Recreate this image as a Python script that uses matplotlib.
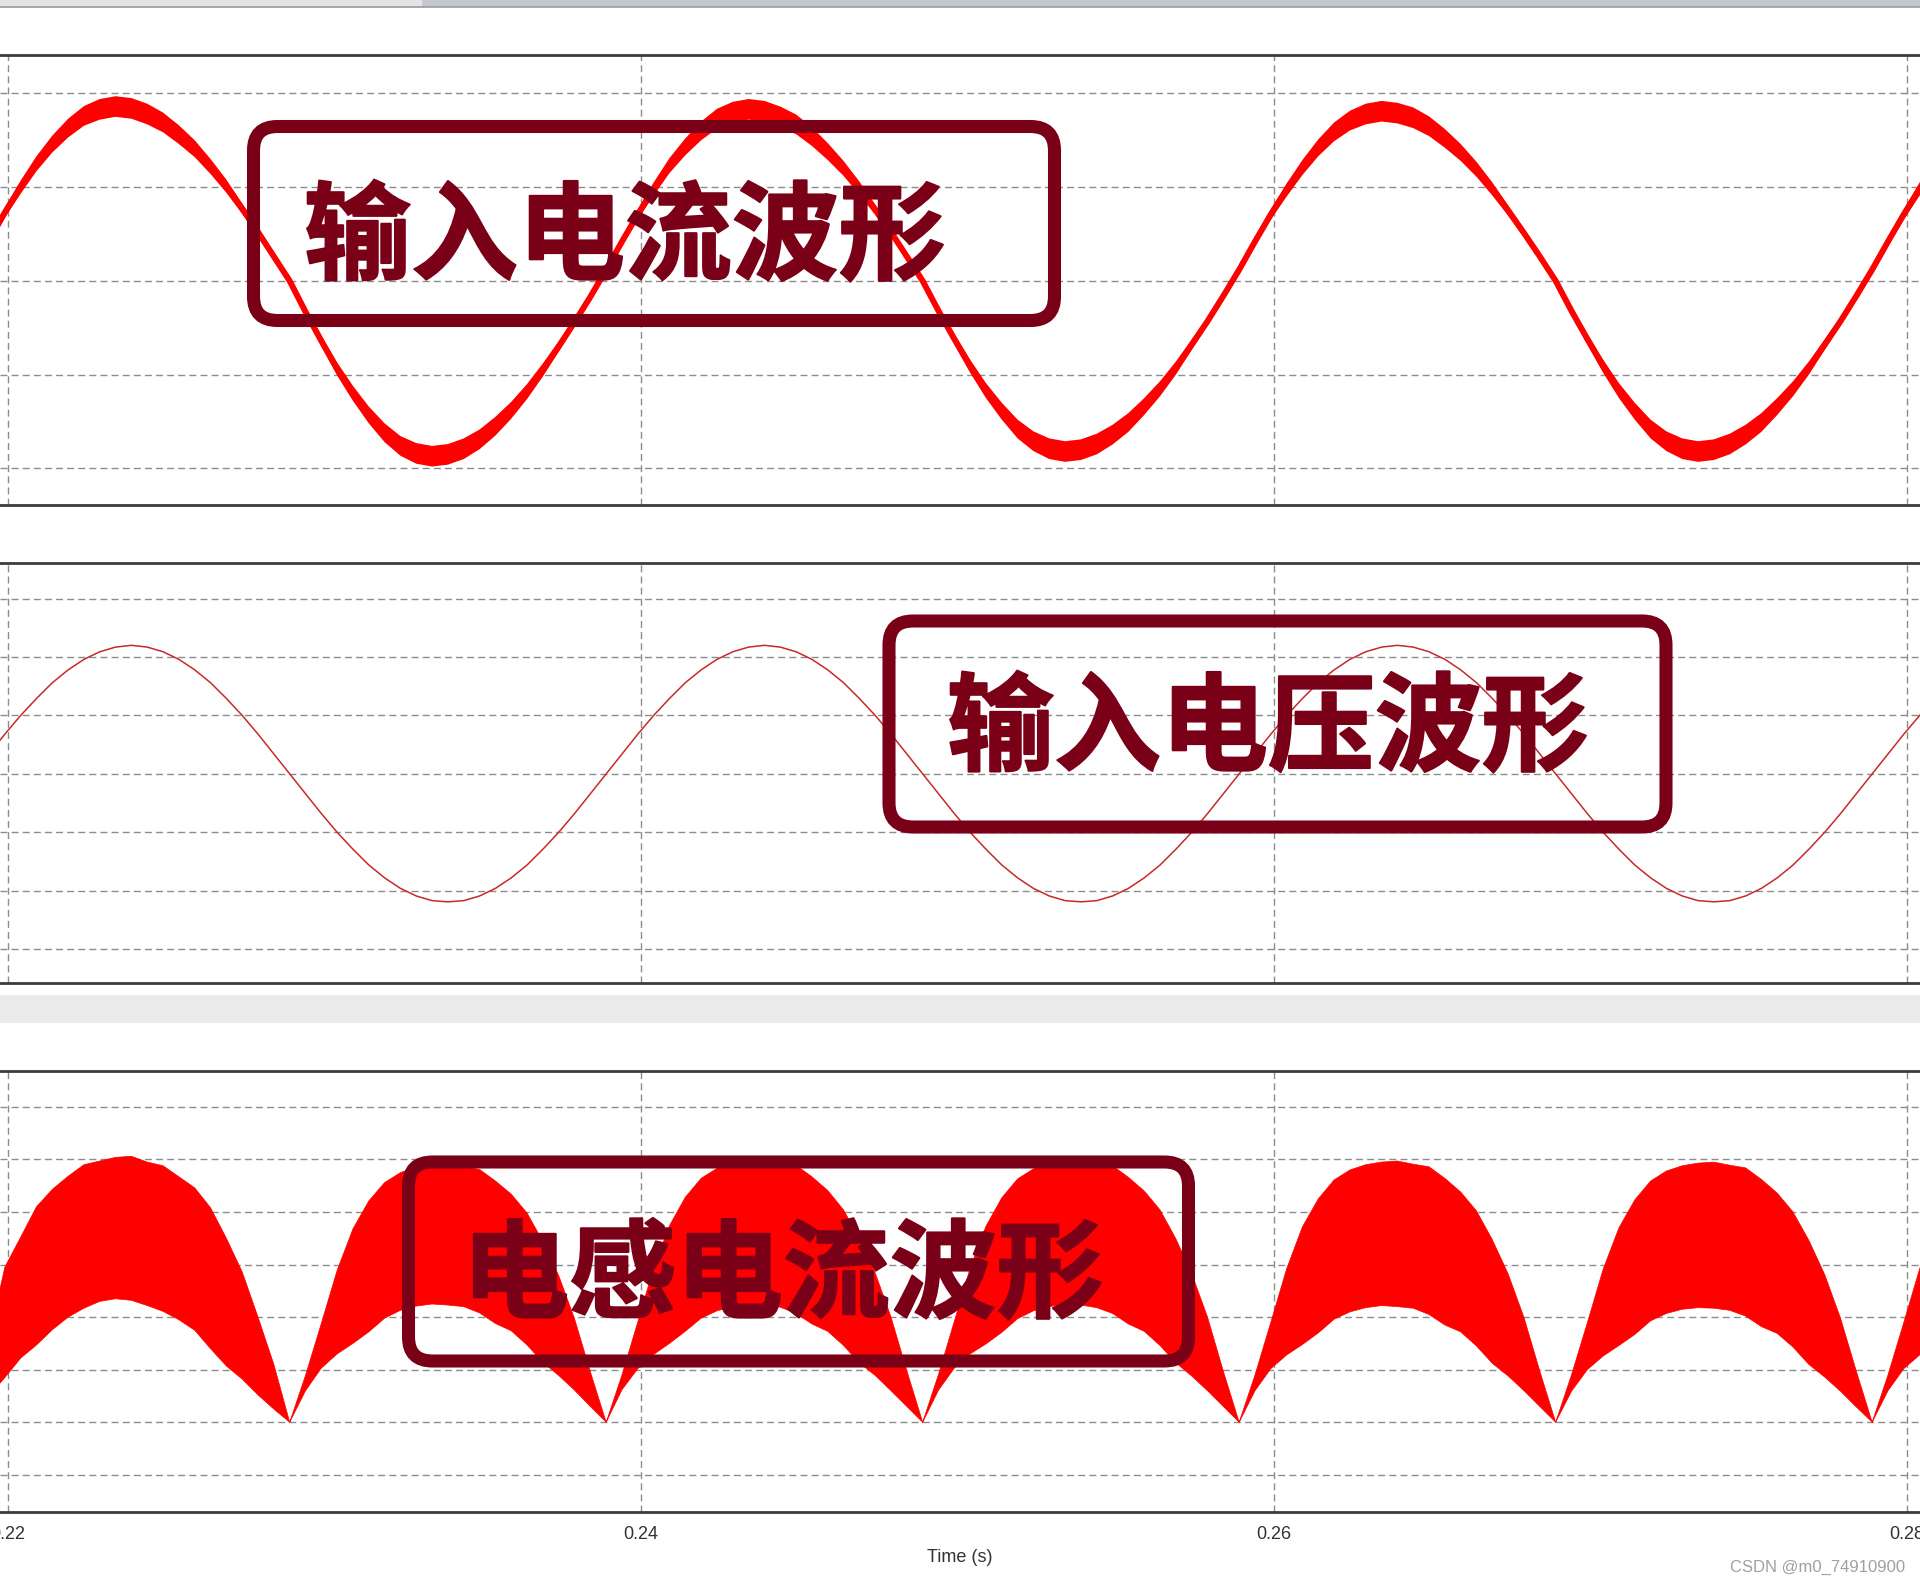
import matplotlib.pyplot as plt
from matplotlib.patches import FancyBboxPatch, Rectangle
import matplotlib.patheffects as pe
import numpy as np

plt.rcParams['font.family'] = ['Liberation Sans', 'DejaVu Sans']

# one reading every 0.5 ms, from 0.2189 s to 0.2809 s
t = np.arange(0.2189, 0.28091, 0.0005)

# input current (centre of the switching band) and half width of the band
current_mid = [
    0.12, 0.43, 0.73, 1.00, 1.25, 1.46, 1.63, 1.76, 1.83, 1.86, 1.84, 1.78, 1.69, 1.56, 1.41, 1.22, 1.01, 0.77, 0.52, 0.26,
    0, -0.33, -0.64, -0.94, -1.20, -1.43, -1.62, -1.76, -1.84, -1.87, -1.85, -1.79, -1.69, -1.55, -1.38, -1.18, -0.95, -0.70, -0.44, -0.17,
    0.12, 0.42, 0.71, 0.98, 1.23, 1.43, 1.60, 1.73, 1.80, 1.83, 1.81, 1.75, 1.67, 1.54, 1.38, 1.20, 0.99, 0.76, 0.52, 0.26,
    0, -0.32, -0.62, -0.91, -1.17, -1.39, -1.58, -1.71, -1.79, -1.82, -1.80, -1.74, -1.64, -1.51, -1.34, -1.15, -0.93, -0.68, -0.43, -0.16,
    0.12, 0.42, 0.71, 0.97, 1.21, 1.42, 1.59, 1.71, 1.78, 1.81, 1.79, 1.74, 1.65, 1.52, 1.37, 1.19, 0.98, 0.75, 0.51, 0.26,
    0, -0.32, -0.62, -0.91, -1.17, -1.39, -1.58, -1.71, -1.79, -1.82, -1.80, -1.74, -1.64, -1.51, -1.34, -1.15, -0.93, -0.68, -0.43, -0.16,
    0.12, 0.42, 0.71, 0.98, 1.22,
]
current_ripple = [
    0.03, 0.04, 0.055, 0.07, 0.08, 0.09, 0.1, 0.105, 0.11, 0.11, 0.11, 0.11, 0.105, 0.1, 0.09, 0.08, 0.07, 0.055, 0.045, 0.035,
    0.03, 0.04, 0.055, 0.07, 0.08, 0.09, 0.1, 0.105, 0.11, 0.11, 0.11, 0.11, 0.105, 0.1, 0.09, 0.08, 0.07, 0.055, 0.045, 0.035,
    0.03, 0.04, 0.055, 0.07, 0.08, 0.09, 0.1, 0.105, 0.11, 0.11, 0.11, 0.11, 0.105, 0.1, 0.09, 0.08, 0.07, 0.055, 0.045, 0.035,
    0.03, 0.04, 0.055, 0.07, 0.08, 0.09, 0.1, 0.105, 0.11, 0.11, 0.11, 0.11, 0.105, 0.1, 0.09, 0.08, 0.07, 0.055, 0.045, 0.035,
    0.03, 0.04, 0.055, 0.07, 0.08, 0.09, 0.1, 0.105, 0.11, 0.11, 0.11, 0.11, 0.105, 0.1, 0.09, 0.08, 0.07, 0.055, 0.045, 0.035,
    0.03, 0.04, 0.055, 0.07, 0.08, 0.09, 0.1, 0.105, 0.11, 0.11, 0.11, 0.11, 0.105, 0.1, 0.09, 0.08, 0.07, 0.055, 0.045, 0.035,
    0.03, 0.04, 0.055, 0.07, 0.08,
]

# input voltage
voltage = [
    0, 0.34, 0.68, 1.00, 1.29, 1.56, 1.78, 1.96, 2.09, 2.17, 2.20, 2.17, 2.09, 1.96, 1.78, 1.56, 1.29, 1.00, 0.68, 0.34,
    0, -0.34, -0.68, -1.00, -1.29, -1.56, -1.78, -1.96, -2.09, -2.17, -2.19, -2.17, -2.09, -1.96, -1.78, -1.56, -1.29, -1.00, -0.68, -0.34,
    0, 0.34, 0.68, 1.00, 1.29, 1.56, 1.78, 1.96, 2.09, 2.17, 2.20, 2.17, 2.09, 1.96, 1.78, 1.56, 1.29, 1.00, 0.68, 0.34,
    0, -0.34, -0.68, -1.00, -1.29, -1.56, -1.78, -1.96, -2.09, -2.17, -2.19, -2.17, -2.09, -1.96, -1.78, -1.56, -1.29, -1.00, -0.68, -0.34,
    0, 0.34, 0.68, 1.00, 1.29, 1.56, 1.78, 1.96, 2.09, 2.17, 2.20, 2.17, 2.09, 1.96, 1.78, 1.56, 1.29, 1.00, 0.68, 0.34,
    0, -0.34, -0.68, -1.00, -1.29, -1.56, -1.78, -1.96, -2.09, -2.17, -2.19, -2.17, -2.09, -1.96, -1.78, -1.56, -1.29, -1.00, -0.68, -0.34,
    0, 0.34, 0.68, 1.00, 1.29,
]

# inductor current, upper and lower edge of the switching band
il_upper = [
    0, 1.6, 2.95, 3.52, 4.1, 4.43, 4.68, 4.9, 4.97, 5.04, 5.06, 4.95, 4.88, 4.67, 4.46, 4.08, 3.5, 2.86, 2.0, 1.1,
    0, 0.89, 1.88, 2.89, 3.68, 4.21, 4.56, 4.75, 4.85, 4.9, 4.92, 4.86, 4.81, 4.59, 4.34, 3.98, 3.44, 2.79, 1.97, 0.96,
    0, 0.9, 1.91, 2.94, 3.74, 4.28, 4.64, 4.83, 4.93, 4.98, 5.0, 4.94, 4.89, 4.67, 4.41, 4.04, 3.49, 2.84, 2.0, 0.98,
    0, 0.91, 1.92, 2.93, 3.73, 4.27, 4.63, 4.82, 4.93, 4.98, 5.0, 4.95, 4.88, 4.66, 4.4, 4.04, 3.49, 2.83, 2.0, 0.97,
    0, 0.9, 1.9, 2.92, 3.72, 4.25, 4.61, 4.8, 4.9, 4.95, 4.97, 4.91, 4.86, 4.64, 4.38, 4.02, 3.47, 2.82, 1.99, 0.97,
    0, 0.9, 1.89, 2.91, 3.7, 4.23, 4.59, 4.78, 4.88, 4.93, 4.95, 4.89, 4.84, 4.62, 4.36, 4.0, 3.46, 2.81, 1.98, 0.97,
    0, 0.9, 1.9, 2.92, 3.72,
]
il_lower = [
    0, 0.5, 0.85, 1.22, 1.47, 1.76, 2.0, 2.17, 2.3, 2.35, 2.32, 2.22, 2.11, 1.95, 1.75, 1.4, 1.07, 0.82, 0.52, 0.25,
    0, 0.6, 1.03, 1.3, 1.5, 1.72, 1.98, 2.13, 2.21, 2.25, 2.23, 2.2, 2.08, 1.88, 1.74, 1.47, 1.14, 0.89, 0.61, 0.3,
    0, 0.62, 1.02, 1.29, 1.5, 1.73, 1.98, 2.12, 2.2, 2.25, 2.24, 2.19, 2.07, 1.87, 1.73, 1.46, 1.13, 0.89, 0.6, 0.3,
    0, 0.61, 1.03, 1.3, 1.49, 1.71, 1.97, 2.12, 2.2, 2.24, 2.23, 2.18, 2.07, 1.87, 1.73, 1.46, 1.13, 0.88, 0.6, 0.3,
    0, 0.6, 1.02, 1.28, 1.48, 1.7, 1.96, 2.1, 2.18, 2.22, 2.2, 2.17, 2.05, 1.85, 1.72, 1.45, 1.12, 0.88, 0.6, 0.3,
    0, 0.59, 1.0, 1.26, 1.46, 1.67, 1.93, 2.07, 2.15, 2.18, 2.17, 2.13, 2.02, 1.82, 1.69, 1.43, 1.1, 0.86, 0.59, 0.29,
    0, 0.6, 1.02, 1.28, 1.48,
]

time_ticks = [0.22, 0.24, 0.26, 0.28]
time_labels = ['0.22', '0.24', '0.26', '0.28']
titles = ['输入电流波形', '输入电压波形', '电感电流波形']

RED = '#ff0000'
MAROON = '#7a0017'
GRID = '#8c8c8c'

fig = plt.figure(figsize=(19.2, 15.84), dpi=100)
ax1 = fig.add_axes([0, 0.6812, 1, 0.2841])
ax2 = fig.add_axes([0, 0.3794, 1, 0.2652])
ax3 = fig.add_axes([0, 0.0457, 1, 0.2784])

cur = np.array(current_mid)
ax1.fill_between(t, cur - current_ripple, cur + current_ripple, color=RED, lw=0)
ax1.plot(t, cur, color=RED, lw=4.3, solid_joinstyle='round')
ax1.set_ylim(-2.39, 2.41)
ax1.set_yticks([-2, -1, 0, 1, 2])

ax2.plot(t, voltage, color='#c62a2a', lw=1.1)
ax2.set_ylim(-3.58, 3.61)
ax2.set_yticks([-3, -2, -1, 0, 1, 2, 3])

ax3.fill_between(t, il_lower, il_upper, color=RED, lw=0.5)
ax3.set_ylim(-1.70, 6.69)
ax3.set_yticks([-1, 0, 1, 2, 3, 4, 5, 6])

for ax in (ax1, ax2, ax3):
    ax.set_xlim(0.219747, 0.280411)
    ax.set_xticks(time_ticks)
    ax.grid(True, color=GRID, ls=(0, (5, 3)), lw=1.0)
    ax.set_axisbelow(True)
    ax.tick_params(length=0, labelleft=False, labelbottom=False)
    for side in ('left', 'right'):
        ax.spines[side].set_visible(False)
    for side in ('top', 'bottom'):
        ax.spines[side].set_color('#3c3c3c')
        ax.spines[side].set_linewidth(2.0)

ax3.tick_params(labelbottom=True, pad=10, labelsize=13, labelcolor='#333333')
ax3.set_xticklabels(time_labels)
ax3.set_xlabel('Time (s)', fontsize=13, color='#333333', labelpad=5)

# overlay in pixel coordinates for the window chrome and the annotation boxes
ov = fig.add_axes([0, 0, 1, 1], zorder=5)
ov.set_xlim(0, 1920)
ov.set_ylim(1584, 0)
ov.axis('off')
ov.patch.set_alpha(0)

ov.add_patch(Rectangle((0, 0), 422, 7, color='#e4e4e4', lw=0))
ov.add_patch(Rectangle((422, 0), 1498, 7, color='#c3c8d0', lw=0))
ov.plot([0, 1920], [7, 7], color='#9a9a9a', lw=1.2)
ov.add_patch(Rectangle((0, 995), 1920, 28, color='#ebebeb', lw=0))

boxes = [(253.5, 126.5, 801, 194), (889, 621, 777, 206), (408.5, 1162, 780, 199)]
text_pos = [(304, 240), (947, 731), (462, 1278)]
for (bx, by, bw, bh), (tx, ty), title in zip(boxes, text_pos, titles):
    ov.add_patch(FancyBboxPatch((bx, by), bw, bh, boxstyle='round,pad=0,rounding_size=24',
                                fc='none', ec=MAROON, lw=9.4))
    ov.text(tx, ty, title, fontsize=77, fontweight='black', color=MAROON,
            family=['Noto Sans CJK SC', 'DejaVu Sans'], ha='left', va='center',
            path_effects=[pe.withStroke(linewidth=1.5, foreground=MAROON)])

fig.text(0.992, 1 - 1567 / 1584, 'CSDN @m0_74910900', ha='right', va='center',
         fontsize=12, color='#a0a0a0')

fig.savefig('out.png', dpi=100)
